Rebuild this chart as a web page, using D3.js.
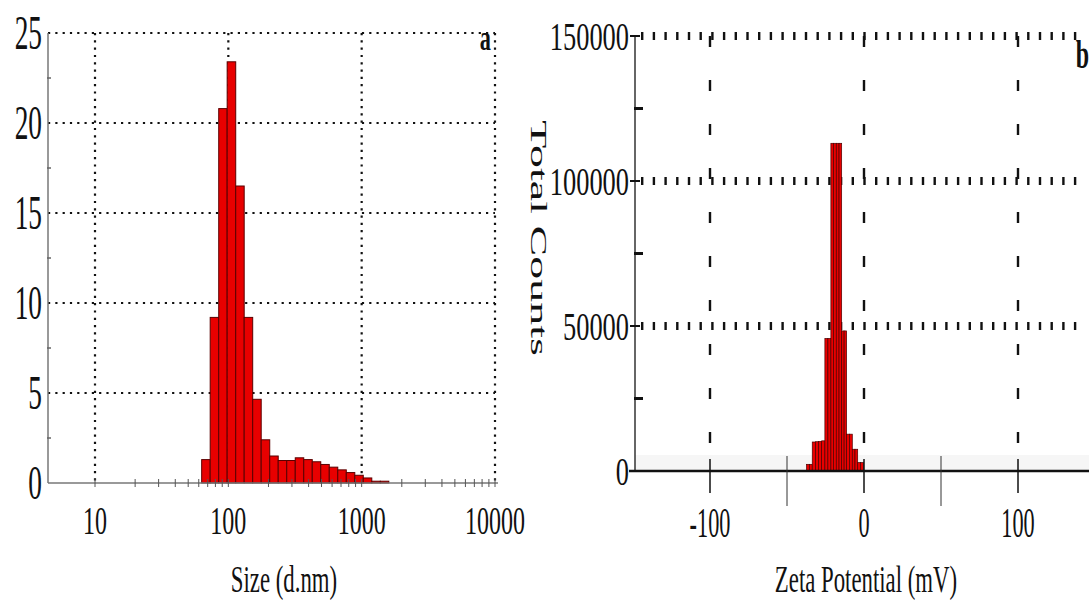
<!DOCTYPE html>
<meta charset="utf-8">
<style>
  body { margin: 0; background: #fff; }
  svg { display: block; }
  text { font-family: "Liberation Serif", "Times New Roman", serif; fill: #111; }
</style>
<svg width="1089" height="603"></svg>
<script src="https://cdn.jsdelivr.net/npm/d3@7"></script>
<script>

// panel a: size distribution by intensity (bin edges in d.nm, intensity in %)
var sizeEdges = [63.1, 73.1, 84.7, 98.0, 113.6, 131.5, 152.3, 176.4, 204.4, 236.7, 274.2,
                 317.6, 367.8, 426.0, 493.4, 571.5, 661.9, 766.7, 888.0, 1028, 1191, 1380, 1598];
var sizeIntensity = [1.3, 9.2, 20.8, 23.4, 16.5, 9.2, 4.65, 2.4, 1.5, 1.25, 1.25,
                     1.4, 1.3, 1.18, 1.03, 0.88, 0.73, 0.58, 0.43, 0.28, 0.1, 0.1];
var sizeTicks = [10, 100, 1000, 10000];
var intensityTicks = [0, 5, 10, 15, 20, 25];

// panel b: zeta potential distribution (bin edges in mV, total counts)
var zetaEdges = [-37.3, -35.45, -33.6, -31.5, -29.5, -27.5, -25.4, -23.45, -21.5, -19.8, -18.0,
                 -16.2, -14.5, -12.9, -11.3, -9.45, -7.6, -5.85, -4.1, -2.25, -0.4];
var zetaCounts = [2300, 2300, 10000, 10100, 10200, 10400, 45700, 45700, 113000, 113000,
                  113000, 113000, 48300, 48300, 12700, 12700, 7500, 7500, 2900, 2900];
var zetaTicks = [-100, 0, 100];
var countTicks = [0, 50000, 100000, 150000];

var svg = d3.select("svg");

function label(x, y, str, size, sx, anchor, weight) {
  return svg.append("text")
    .attr("transform", "translate(" + x + "," + y + ") scale(" + sx + ",1)")
    .attr("text-anchor", anchor || "middle")
    .style("font-size", size + "px")
    .style("font-weight", weight || "normal")
    .text(str);
}

// ---------- panel a ----------
var xa = d3.scaleLog().domain([10, 10000]).range([95, 495]);
var ya = d3.scaleLinear().domain([0, 25]).range([483, 33]);
var xaLeft = 48;

var ga = svg.append("g");

// grid
ga.selectAll(".hg").data(intensityTicks.slice(1)).enter().append("line")
  .attr("x1", xaLeft).attr("x2", xa(10000))
  .attr("y1", d => ya(d)).attr("y2", d => ya(d))
  .attr("stroke", "#111").attr("stroke-width", 2.2).attr("stroke-dasharray", "2.2,5.1");
ga.selectAll(".vg").data(sizeTicks).enter().append("line")
  .attr("x1", d => xa(d)).attr("x2", d => xa(d))
  .attr("y1", ya(25)).attr("y2", ya(0))
  .attr("stroke", "#111").attr("stroke-width", 2.2).attr("stroke-dasharray", "2.2,5.1");

// bars
ga.selectAll(".bar").data(sizeIntensity).enter().append("rect")
  .attr("x", (d, i) => xa(sizeEdges[i]))
  .attr("width", (d, i) => xa(sizeEdges[i + 1]) - xa(sizeEdges[i]))
  .attr("y", d => ya(d))
  .attr("height", d => ya(0) - ya(d))
  .attr("fill", "#e80000").attr("stroke", "#5a0000").attr("stroke-width", 1);

// axes
ga.append("line").attr("x1", xaLeft).attr("x2", xaLeft).attr("y1", ya(25)).attr("y2", ya(0))
  .attr("stroke", "#777").attr("stroke-width", 1.5);
ga.append("line").attr("x1", xaLeft).attr("x2", xa(10000) + 3).attr("y1", ya(0)).attr("y2", ya(0))
  .attr("stroke", "#777").attr("stroke-width", 1.5);
ga.selectAll(".yminor").data([2.5, 7.5, 12.5, 17.5, 22.5]).enter().append("line")
  .attr("x1", xaLeft - 1).attr("x2", xaLeft + 3).attr("y1", d => ya(d)).attr("y2", d => ya(d))
  .attr("stroke", "#666").attr("stroke-width", 1.5);
ga.selectAll(".xminor").data(xa.ticks().filter(d => d >= 9)).enter().append("line")
  .attr("x1", d => xa(d)).attr("x2", d => xa(d)).attr("y1", ya(0) - 4).attr("y2", ya(0) + 4)
  .attr("stroke", "#555").attr("stroke-width", 1);

intensityTicks.forEach(function(t) { label(42, ya(t) + 16, t, 48, 0.57, "end"); });
sizeTicks.forEach(function(t) { label(xa(t), 534, t, 40, 0.6); });
label(284, 592, "Size (d.nm)", 38, 0.6);
label(491, 50, "a", 36, 0.62, "end", "bold");

// ---------- panel b ----------
var xb = d3.scaleLinear().domain([-100, 100]).range([710, 1018]);
var yb = d3.scaleLinear().domain([0, 150000]).range([471, 36]);
var xbLeft = 635, xbRight = 1080;

var gb = svg.append("g");

gb.append("rect").attr("x", xbLeft).attr("y", yb(0) - 16).attr("width", 1089 - xbLeft).attr("height", 16)
  .attr("fill", "#f6f6f6");

gb.selectAll(".hg").data(countTicks.slice(1)).enter().append("line")
  .attr("x1", xbLeft + 6).attr("x2", xbRight)
  .attr("y1", d => yb(d)).attr("y2", d => yb(d))
  .attr("stroke", "#111").attr("stroke-width", 8).attr("stroke-dasharray", "2.4,9.3");
gb.selectAll(".vg").data(zetaTicks).enter().append("line")
  .attr("x1", d => xb(d)).attr("x2", d => xb(d))
  .attr("y1", yb(150000)).attr("y2", yb(0))
  .attr("stroke", "#111").attr("stroke-width", 2.4).attr("stroke-dasharray", "11,33");

gb.selectAll(".bar").data(zetaCounts).enter().append("rect")
  .attr("x", (d, i) => xb(zetaEdges[i]))
  .attr("width", (d, i) => xb(zetaEdges[i + 1]) - xb(zetaEdges[i]))
  .attr("y", d => yb(d))
  .attr("height", d => yb(0) - yb(d))
  .attr("fill", "#e80000").attr("stroke", "#4a0000").attr("stroke-width", 0.7);

gb.append("line").attr("x1", xbLeft).attr("x2", xbLeft).attr("y1", yb(150000)).attr("y2", yb(0))
  .attr("stroke", "#333").attr("stroke-width", 1.5);
gb.append("line").attr("x1", xbLeft - 6).attr("x2", 1089).attr("y1", yb(0)).attr("y2", yb(0))
  .attr("stroke", "#111").attr("stroke-width", 2.5);
gb.selectAll(".ymaj").data(countTicks).enter().append("line")
  .attr("x1", xbLeft - 5).attr("x2", xbLeft + 5).attr("y1", d => yb(d)).attr("y2", d => yb(d))
  .attr("stroke", "#111").attr("stroke-width", 2);
gb.selectAll(".ymin").data([25000, 75000, 125000]).enter().append("line")
  .attr("x1", xbLeft - 1).attr("x2", xbLeft + 8).attr("y1", d => yb(d)).attr("y2", d => yb(d))
  .attr("stroke", "#111").attr("stroke-width", 3);
gb.selectAll(".xmaj").data(zetaTicks).enter().append("line")
  .attr("x1", d => xb(d)).attr("x2", d => xb(d)).attr("y1", yb(0) - 12).attr("y2", yb(0) + 22)
  .attr("stroke", "#111").attr("stroke-width", 1.5);
gb.selectAll(".xmin").data([-50, 50]).enter().append("line")
  .attr("x1", d => xb(d)).attr("x2", d => xb(d)).attr("y1", yb(0) - 15).attr("y2", yb(0) + 35)
  .attr("stroke", "#333").attr("stroke-width", 1);

countTicks.forEach(function(t) { label(629, yb(t) + 14, t, 40, 0.66, "end"); });
zetaTicks.forEach(function(t) { label(xb(t), 537, t, 42, 0.53); });
label(866, 592, "Zeta Potential (mV)", 38, 0.6);
svg.append("text")
  .attr("transform", "translate(531,238) rotate(90) scale(1,0.52)")
  .attr("text-anchor", "middle")
  .style("font-size", "46px")
  .text("Total Counts");
label(1089, 68, "b", 40, 0.6, "end", "bold");

</script>
